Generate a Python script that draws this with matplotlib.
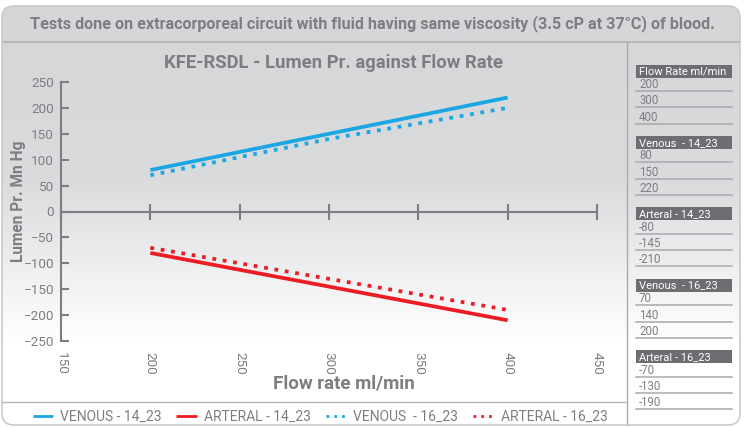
import numpy as np
import matplotlib
matplotlib.use('Agg')
import matplotlib.pyplot as plt
from matplotlib.patches import FancyBboxPatch, Rectangle
from matplotlib.colors import LinearSegmentedColormap

# data
flow = [200, 300, 400]
venous_14 = [80, 150, 220]
arterial_14 = [-80, -145, -210]
venous_16 = [70, 140, 200]
arterial_16 = [-70, -130, -190]

legend_labels = ['VENOUS - 14_23', 'ARTERAL - 14_23', 'VENOUS  - 16_23', 'ARTERAL - 16_23']
table_heads = ['Flow Rate ml/min', 'Venous  - 14_23', 'Arteral - 14_23', 'Venous  - 16_23', 'Arteral - 16_23']
table_cols = [flow, venous_14, arterial_14, venous_16, arterial_16]

xticks = [150, 200, 250, 300, 350, 400, 450]
yticks = [-250, -200, -150, -100, -50, 0, 50, 100, 150, 200, 250]

FONT = ['Roboto', 'DejaVu Sans']
plt.rcParams['font.family'] = FONT
GREY = '#7d7e81'
BLUE = '#1aa7e4'
RED = '#ec1c24'

W, H = 747, 428
fig = plt.figure(figsize=(W / 100, H / 100), dpi=100)

# background layer in pixel coordinates
bg = fig.add_axes([0, 0, 1, 1])
bg.set_xlim(0, W)
bg.set_ylim(H, 0)
bg.axis('off')

frame = FancyBboxPatch((2, 6), 738, 419, boxstyle='round,pad=0,rounding_size=12',
                       facecolor='none', edgecolor='#c9cacc', lw=1.2, zorder=3)
bg.add_patch(frame)

# gradient fill: header band + fading panel
rows = np.arange(6, 426)
vals = np.clip((rows - 42) / 300.0, 0, 1)
img = np.zeros((len(rows), 1))
img[:, 0] = vals
img[rows < 42, 0] = -0.08
cmap = LinearSegmentedColormap.from_list('bgfade', ['#d5d6d8', '#dadbdd', '#ffffff'])
im = bg.imshow(img, extent=(2, 740, 425, 6), aspect='auto', cmap=cmap, vmin=-0.08, vmax=1,
               origin='upper', zorder=1)
im.set_clip_path(frame)

bg.plot([2, 740], [42, 42], color='#b3b4b6', lw=1.3, zorder=2)
bg.plot([627, 627], [42, 425], color='#a9aaac', lw=1.0, zorder=2)
bg.plot([2, 627], [402, 402], color='#b3b4b6', lw=1.0, zorder=2)

bg.text(372, 24, 'Tests done on extracorporeal circuit with fluid having same viscosity (3.5 cP at 37\u00b0C) of blood.',
        ha='center', va='center', fontsize=11.6, fontweight='bold', color=GREY)

# right-hand data table
for i, (head, col) in enumerate(zip(table_heads, table_cols)):
    top = 64.5 + i * 71.4
    bg.add_patch(Rectangle((636, top), 96, 13, facecolor='#6d6e71', edgecolor='none', zorder=2))
    bg.text(639, top + 6.8, head, ha='left', va='center', fontsize=8, color='white', zorder=3)
    for j, v in enumerate(col):
        line_y = top + 13 + 13.5 + j * 16.3
        bg.text(639, line_y - 6.5, str(v), ha='left', va='center', fontsize=8.3, color=GREY, zorder=3)
        bg.plot([636, 732], [line_y, line_y], color='#a7a9ac', lw=1.1, zorder=2)

# main chart
ax = fig.add_axes([61 / W, 1 - 341 / H, 536 / W, 259 / H])
ax.patch.set_visible(False)
ax.plot(flow, venous_14, color=BLUE, lw=2.7, solid_capstyle='butt', label=legend_labels[0])
ax.plot(flow, arterial_14, color=RED, lw=2.7, solid_capstyle='butt', label=legend_labels[1])
ax.plot(flow, venous_16, color=BLUE, lw=2.7, dashes=(1, 1.8), dash_capstyle='butt', label=legend_labels[2])
ax.plot(flow, arterial_16, color=RED, lw=2.7, dashes=(1, 1.8), dash_capstyle='butt', label=legend_labels[3])

ax.set_xlim(150, 450)
ax.set_ylim(-250, 250)
for s in ['top', 'right']:
    ax.spines[s].set_visible(False)
ax.spines['left'].set_color(GREY)
ax.spines['left'].set_linewidth(1.5)
ax.spines['bottom'].set_position(('data', 0))
ax.spines['bottom'].set_color(GREY)
ax.spines['bottom'].set_linewidth(1.5)

ax.set_xticks(xticks)
ax.tick_params(axis='x', direction='inout', length=12, width=1.5, color=GREY, labelbottom=False)
ax.set_yticks(yticks)
ax.tick_params(axis='y', direction='in', length=6, width=1.5, color=GREY,
               labelsize=9.7, labelcolor=GREY, pad=5)

sec = ax.secondary_xaxis('bottom')
sec.spines['bottom'].set_visible(False)
sec.set_xticks(xticks)
sec.tick_params(length=0, labelsize=9.7, labelcolor=GREY, labelrotation=-90, pad=8)

fig.text(333 / W, 1 - 63 / H, 'KFE-RSDL - Lumen Pr. against Flow Rate', ha='center', va='center',
         fontsize=13.3, fontweight='bold', color=GREY)
fig.text(344 / W, 1 - 384 / H, 'Flow rate ml/min', ha='center', va='center',
         fontsize=13.5, fontweight='bold', color=GREY)
fig.text(19 / W, 1 - 201 / H, 'Lumen Pr. Mn Hg', ha='center', va='center', rotation=90,
         fontsize=11.2, fontweight='bold', color=GREY)

leg = fig.legend(*ax.get_legend_handles_labels(), loc='center', bbox_to_anchor=(320 / W, 1 - 417 / H),
                 ncol=4, frameon=False, fontsize=10, labelcolor=GREY, handlelength=1.5,
                 handletextpad=0.5, columnspacing=1.05)
for ln in leg.get_lines():
    ln.set_linewidth(2.0)

fig.savefig('out.png', dpi=100)
